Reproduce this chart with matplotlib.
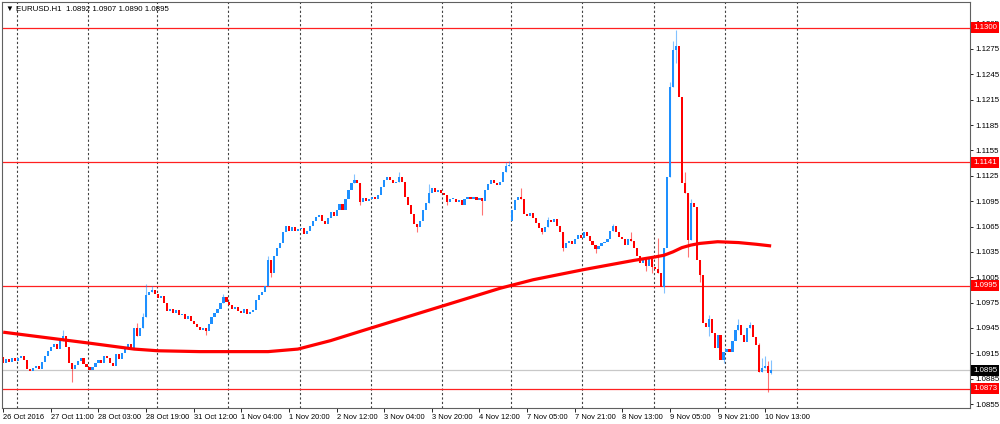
import matplotlib
matplotlib.use("Agg")
import matplotlib.pyplot as plt
from matplotlib.transforms import blended_transform_factory

# H1 closes, one per bar, 26 Oct 19:00 .. 10 Nov 15:00
closes = [
    1.0903, 1.0908, 1.0905, 1.0909, 1.0906, 1.0910, 1.0912, 1.0907, 1.0897, 1.0894,
    1.0898, 1.0900, 1.0897, 1.0905, 1.0912, 1.0918, 1.0923, 1.0926, 1.0920, 1.0930,
    1.0935, 1.0922, 1.0903, 1.0897, 1.0901, 1.0906, 1.0910, 1.0902, 1.0899, 1.0895,
    1.0899, 1.0903, 1.0907, 1.0904, 1.0912, 1.0909, 1.0903, 1.0900, 1.0914, 1.0908,
    1.0915, 1.0922, 1.0926, 1.0921, 1.0945, 1.0935, 1.0945, 1.0958, 1.0984, 1.0988,
    1.0990, 1.0985, 1.0980, 1.0983, 1.0975, 1.0965, 1.0968, 1.0963, 1.0966, 1.0960,
    1.0962, 1.0956, 1.0959, 1.0953, 1.0950, 1.0946, 1.0942, 1.0945, 1.0941, 1.0950,
    1.0958, 1.0963, 1.0968, 1.0975, 1.0982, 1.0976, 1.0972, 1.0968, 1.0970, 1.0965,
    1.0963, 1.0967, 1.0962, 1.0964, 1.0966, 1.0978, 1.0984, 1.0988, 1.0995, 1.1025,
    1.1010, 1.1030, 1.1040, 1.1045, 1.1058, 1.1066, 1.1060, 1.1064, 1.1060, 1.1062,
    1.1063, 1.1056, 1.1060, 1.1066, 1.1071, 1.1076, 1.1079, 1.1072, 1.1068, 1.1075,
    1.1082, 1.1078, 1.1084, 1.1092, 1.1084, 1.1098, 1.1108, 1.1117, 1.1120, 1.1116,
    1.1094, 1.1099, 1.1095, 1.1098, 1.1100, 1.1097, 1.1102, 1.1112, 1.1120, 1.1124,
    1.1120, 1.1116, 1.1118, 1.1124, 1.1118, 1.1100, 1.1090, 1.1080, 1.1068, 1.1065,
    1.1072, 1.1085, 1.1093, 1.1105, 1.1110, 1.1106, 1.1108, 1.1105, 1.1102, 1.1094,
    1.1097, 1.1098, 1.1094, 1.1096, 1.1091, 1.1097, 1.1100, 1.1097, 1.1100, 1.1096,
    1.1099, 1.1095, 1.1108, 1.1115, 1.1120, 1.1117, 1.1114, 1.1118, 1.1130, 1.1136,
    1.1138, 1.1085, 1.1096, 1.1100, 1.1097, 1.1080, 1.1077, 1.1081, 1.1075, 1.1069,
    1.1063, 1.1059, 1.1064, 1.1073, 1.1070, 1.1074, 1.1066, 1.1058, 1.1040, 1.1045,
    1.1048, 1.1044, 1.1050, 1.1055, 1.1052, 1.1058, 1.1054, 1.1048, 1.1043, 1.1038,
    1.1042, 1.1045, 1.1047, 1.1050, 1.1060, 1.1066, 1.1058, 1.1053, 1.1050, 1.1043,
    1.1050, 1.1048, 1.1040, 1.1030, 1.1022, 1.1028, 1.1018, 1.1026, 1.1017, 1.1015,
    1.1010, 1.0993, 1.1040, 1.1124, 1.1230, 1.1274, 1.1278, 1.1218, 1.1116, 1.1105,
    1.1049, 1.1093, 1.1088, 1.1025, 1.1008, 1.0951, 1.0946, 1.0956, 1.0939, 1.0921,
    1.0937, 1.0907, 1.0917, 1.0920, 1.0916, 1.0930, 1.0942, 1.0949, 1.0937, 1.0928,
    1.0945, 1.0948, 1.0934, 1.0925, 1.0893, 1.0898, 1.0900, 1.0892, 1.0895,
]
first_open = 1.0911
gap_opens = {171: 1.1071}   # monday gap

# wicks that stick out visibly past the body
wick_highs = {20: 1.0943, 45: 1.0951, 47: 1.0963, 48: 1.0997, 50: 1.0995, 74: 1.0985,
              89: 1.1030, 118: 1.1127, 133: 1.1129, 143: 1.1115, 169: 1.1141, 170: 1.1142,
              174: 1.1110, 183: 1.1076, 205: 1.1068, 211: 1.1058, 220: 1.1051, 224: 1.1236,
              225: 1.1285, 226: 1.1297, 229: 1.1130, 231: 1.1097, 237: 1.0960, 247: 1.0955,
              251: 1.0952, 254: 1.0927, 255: 1.0909, 256: 1.0912, 257: 1.0906, 258: 1.0907}
wick_lows = {23: 1.0881, 68: 1.0937, 90: 1.1005, 120: 1.1090, 139: 1.1059, 149: 1.1090,
             161: 1.1079, 181: 1.1056, 188: 1.1036, 199: 1.1034, 216: 1.1012, 218: 1.1010,
             222: 1.0986, 226: 1.1258, 230: 1.1029, 234: 1.0999, 237: 1.0935, 242: 1.0903,
             257: 1.0869, 258: 1.0890}

# moving average (thick red line)
ma_bars = [0, 29, 44, 52, 66, 80, 89, 99, 110, 120, 143, 167, 178, 195, 212, 219, 222,
           225, 228, 231, 234, 240, 247, 253, 258]
ma_values = [1.0940, 1.0927, 1.0920, 1.0918, 1.0917, 1.0917, 1.0917, 1.0920, 1.0930, 1.0941,
             1.0966, 1.0992, 1.1002, 1.1014, 1.1025, 1.1029, 1.1031, 1.1035, 1.1040, 1.1043,
             1.1045, 1.1047, 1.1046, 1.1044, 1.1042]

level_lines = [1.1300, 1.1141, 1.0995, 1.0873]
last_price = 1.0895
day_starts = [5, 29, 52, 76, 100, 124, 148, 171, 195, 219, 243, 267]
label_bars = [0, 16, 32, 48, 64, 80, 96, 112, 128, 144, 160, 176, 192, 208, 224, 240, 256]
time_labels = ['26 Oct 2016', '27 Oct 11:00', '28 Oct 03:00', '28 Oct 19:00', '31 Oct 12:00',
               '1 Nov 04:00', '1 Nov 20:00', '2 Nov 12:00', '3 Nov 04:00', '3 Nov 20:00',
               '4 Nov 12:00', '7 Nov 05:00', '7 Nov 21:00', '8 Nov 13:00', '9 Nov 05:00',
               '9 Nov 21:00', '10 Nov 13:00']
price_ticks = [1.0855, 1.0885, 1.0915, 1.0945, 1.0975, 1.1005, 1.1035, 1.1065,
               1.1095, 1.1125, 1.1155, 1.1185, 1.1215, 1.1245, 1.1275, 1.1305]

plt.rcParams['font.family'] = ['Liberation Sans', 'DejaVu Sans']
BULL = '#1e90ff'
BEAR = '#ff0000'

fig = plt.figure(figsize=(10, 4.24), dpi=100)
ax = fig.add_axes([0.002, 16 / 424, 0.968, 406 / 424])

opens = []
for i in range(len(closes)):
    if i in gap_opens:
        opens.append(gap_opens[i])
    elif i == 0:
        opens.append(first_open)
    else:
        opens.append(closes[i - 1])

for i, (o, c) in enumerate(zip(opens, closes)):
    col = BULL if c >= o else BEAR
    top, bot = max(o, c), min(o, c)
    hi = max(top, wick_highs.get(i, top))
    lo = min(bot, wick_lows.get(i, bot))
    if hi > top or lo < bot:
        ax.vlines(i, lo, hi, color=col, lw=0.8, alpha=0.55, zorder=2)
    h = max(top - bot, 0.00012)
    ax.bar(i, h, bottom=bot, width=0.72, color=col, lw=0, zorder=2.2)

ax.plot(ma_bars, ma_values, color='#ff0000', lw=2.3, solid_capstyle='butt',
        solid_joinstyle='round', zorder=3)

for lv in level_lines:
    ax.axhline(lv, color='#ff2020', lw=0.9, zorder=1.5)
ax.axhline(last_price, color='#c8c8c8', lw=0.9, zorder=1.4)

for d in day_starts:
    ax.axvline(d - 0.45, color='#404040', lw=0.8, ls=(0, (2, 2)), zorder=1)

ax.set_xlim(-0.4, 324.8)
ax.set_ylim(1.08503, 1.13306)

ax.yaxis.tick_right()
ax.set_yticks(price_ticks)
ax.set_yticklabels(['%.4f' % p for p in price_ticks])
ax.tick_params(axis='y', direction='out', length=2, width=0.6, pad=2, labelsize=5.7)
ax.set_xticks(label_bars)
ax.set_xticklabels(time_labels, ha='left')
ax.tick_params(axis='x', direction='out', length=3, width=0.6, pad=1.5, labelsize=5.4)

for s in ax.spines.values():
    s.set_color('#606060')
    s.set_linewidth(0.8)

trans = blended_transform_factory(ax.transAxes, ax.transData)
for lv in level_lines:
    ax.text(1.0035, lv, '%.4f' % lv, transform=trans, color='white', fontsize=5.7,
            va='center', ha='left', zorder=6, clip_on=False,
            bbox=dict(boxstyle='square,pad=0.25', fc='#ff0000', ec='none'))
ax.text(1.0035, last_price, '%.4f' % last_price, transform=trans, color='white', fontsize=5.7,
        va='center', ha='left', zorder=6, clip_on=False,
        bbox=dict(boxstyle='square,pad=0.25', fc='#000000', ec='none'))

ax.text(0.004, 0.99, '\u25bc EURUSD.H1  1.0892 1.0907 1.0890 1.0895', transform=ax.transAxes,
        va='top', ha='left', fontsize=5.7, zorder=6)

fig.savefig('out.png', dpi=100)
